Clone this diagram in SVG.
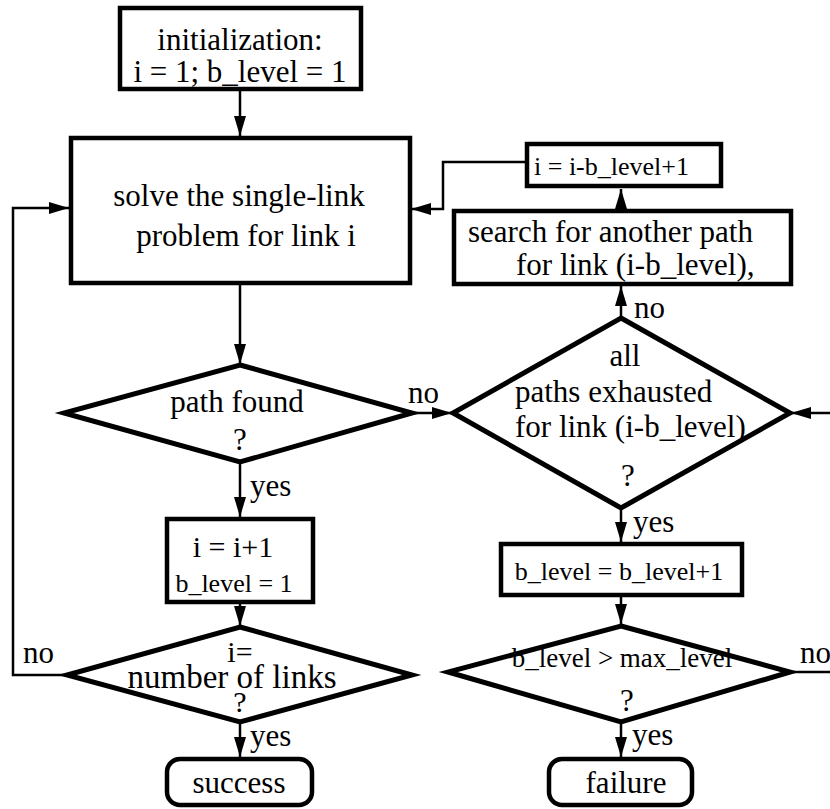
<svg xmlns="http://www.w3.org/2000/svg" width="830" height="809" viewBox="0 0 830 809">
<style>
.box{fill:#fff;stroke:#000;stroke-width:4.5}
.dia{fill:#fff;stroke:#000;stroke-width:5;stroke-linejoin:miter}
.ln{fill:none;stroke:#000;stroke-width:2.5}
</style>
<defs>
<marker id="ah" markerUnits="userSpaceOnUse" markerWidth="20" markerHeight="12" refX="20" refY="6" orient="auto">
<path d="M0,0 L20,6 L0,12 Z" fill="#000"/>
</marker>
</defs>
<g font-family="Liberation Serif, Times New Roman, serif" font-size="31" fill="#000">
<g id="connectors">
<path class="ln" d="M240,91 V136" marker-end="url(#ah)"/>
<path class="ln" d="M240,285 V364" marker-end="url(#ah)"/>
<path class="ln" d="M240,462 V517" marker-end="url(#ah)"/>
<path class="ln" d="M240,603 V626" marker-end="url(#ah)"/>
<path class="ln" d="M240,722 V757" marker-end="url(#ah)"/>
<path class="ln" d="M67,675 H13 V208 H69" marker-end="url(#ah)"/>
<path class="ln" d="M412,413 H452" marker-end="url(#ah)"/>
<path class="ln" d="M621,318 V286" marker-end="url(#ah)"/>
<path class="ln" d="M621,210 V189" marker-end="url(#ah)"/>
<path class="ln" d="M525,162 H443 V209 H411" marker-end="url(#ah)"/>
<path class="ln" d="M830,413 H791" marker-end="url(#ah)"/>
<path class="ln" d="M621,508 V542" marker-end="url(#ah)"/>
<path class="ln" d="M621,597 V624" marker-end="url(#ah)"/>
<path class="ln" d="M621,722 V757" marker-end="url(#ah)"/>
<path class="ln" d="M792,672 H830"/>
<text x="408" y="403">no</text>
<text x="634" y="318">no</text>
<text x="250" y="496">yes</text>
<text x="250" y="746">yes</text>
<text x="633" y="532">yes</text>
<text x="632" y="745">yes</text>
<text x="23" y="663">no</text>
<text x="800" y="663">no</text>
</g>
<g id="init">
<rect class="box" x="120" y="8" width="241" height="81"/>
<text text-anchor="middle" x="240" y="50">initialization:</text>
<text text-anchor="middle" x="240" y="82">i = 1; b_level = 1</text>
</g>
<g id="solve">
<rect class="box" x="71" y="138" width="339" height="145"/>
<text text-anchor="middle" x="239" y="206">solve the single-link</text>
<text text-anchor="middle" x="246" y="246">problem for link i</text>
</g>
<g id="pathfound">
<polygon class="dia" points="240,365 412,413 240,462 64,413"/>
<text text-anchor="middle" x="237" y="412">path found</text>
<text text-anchor="middle" x="240" y="450">?</text>
</g>
<g id="inc">
<rect class="box" x="167" y="519" width="146" height="83"/>
<text text-anchor="middle" x="233" y="557" font-size="30">i = i+1</text>
<text text-anchor="middle" x="234" y="592" font-size="26">b_level = 1</text>
</g>
<g id="nlinks">
<polygon class="dia" points="240,627 412,675 240,722 67,675"/>
<text text-anchor="middle" x="240" y="662" font-size="30">i=</text>
<text text-anchor="middle" x="232" y="688" font-size="33">number of links</text>
<text text-anchor="middle" x="240" y="712" font-size="30">?</text>
</g>
<g id="success">
<rect class="box" x="167" y="759" width="145" height="46" rx="13"/>
<text text-anchor="middle" x="239" y="793">success</text>
</g>
<g id="reset">
<rect class="box" x="527" y="144" width="194" height="42"/>
<text x="534" y="175" font-size="26">i = i-b_level+1</text>
</g>
<g id="search">
<rect class="box" x="454" y="211" width="337" height="73"/>
<text x="468" y="242">search for another path</text>
<text x="516" y="275">for link (i-b_level),</text>
</g>
<g id="exhausted">
<polygon class="dia" points="621,318 790,413 621,508 453,413"/>
<text text-anchor="middle" x="625" y="366">all</text>
<text x="515" y="402">paths exhausted</text>
<text x="515" y="437">for link (i-b_level)</text>
<text text-anchor="middle" x="628" y="486">?</text>
</g>
<g id="blevel">
<rect class="box" x="501" y="544" width="241" height="51"/>
<text text-anchor="middle" x="619" y="580" font-size="26">b_level = b_level+1</text>
</g>
<g id="maxlevel">
<polygon class="dia" points="621,626 790,672 621,722 448,672"/>
<text text-anchor="middle" x="622" y="667" font-size="27">b_level &gt; max_level</text>
<text text-anchor="middle" x="627" y="711">?</text>
</g>
<g id="failure">
<rect class="box" x="549" y="759" width="143" height="46" rx="13"/>
<text text-anchor="middle" x="626" y="793">failure</text>
</g>
</g>
</svg>
